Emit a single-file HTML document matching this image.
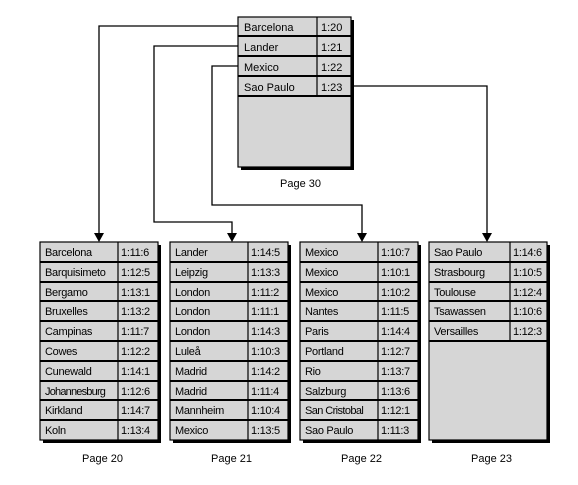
<!DOCTYPE html>
<html><head><style>
body{margin:0;background:#fff}
svg text{font-family:"Liberation Sans",sans-serif;font-size:11px;fill:#000}
</style></head><body>
<svg width="578" height="480" xmlns="http://www.w3.org/2000/svg">
<g stroke="#000" stroke-width="1.3" fill="none">
<polyline points="238,26 99,26 99,236"/>
<polyline points="238,46 154,46 154,222 232,222 232,236"/>
<polyline points="238,66 212,66 212,205 362,205 362,236"/>
<polyline points="351,86 487,86 487,236"/>
</g>
<g fill="#000">
<polygon points="94,233 104,233 99,242"/>
<polygon points="227,233 237,233 232,242"/>
<polygon points="357,233 367,233 362,242"/>
<polygon points="482,233 492,233 487,242"/>
</g>
<!-- top box -->
<rect x="241" y="20" width="113" height="150" fill="#000"/>
<rect x="238" y="17" width="113" height="150" fill="#d6d6d6" stroke="#000" stroke-width="1.2"/>
<g stroke="#000" stroke-width="2">
<line x1="238" y1="36" x2="351" y2="36"/><line x1="238" y1="56" x2="351" y2="56"/>
<line x1="238" y1="76" x2="351" y2="76"/><line x1="238" y1="96" x2="351" y2="96"/>
</g>
<line x1="317" y1="17" x2="317" y2="96" stroke="#000" stroke-width="1.2"/>
<text x="244" y="31">Barcelona</text><text x="321" y="31">1:20</text>
<text x="244" y="51">Lander</text><text x="321" y="51">1:21</text>
<text x="244" y="71">Mexico</text><text x="321" y="71">1:22</text>
<text x="244" y="91">Sao Paulo</text><text x="321" y="91">1:23</text>
<text x="280" y="187" font-size="11">Page 30</text>

<!-- shadows & boxes -->
<g fill="#000">
<rect x="43" y="245" width="118" height="198"/>
<rect x="173" y="245" width="118" height="198"/>
<rect x="303" y="245" width="118" height="198"/>
<rect x="432" y="245" width="118" height="198"/>
</g>
<g fill="#d6d6d6" stroke="#000" stroke-width="1.2">
<rect x="40" y="242" width="118" height="198"/>
<rect x="170" y="242" width="118" height="198"/>
<rect x="300" y="242" width="118" height="198"/>
<rect x="429" y="242" width="118" height="198"/>
</g>
<g stroke="#000" stroke-width="2">
<line x1="40" y1="262" x2="158" y2="262"/><line x1="40" y1="282" x2="158" y2="282"/><line x1="40" y1="301" x2="158" y2="301"/><line x1="40" y1="321" x2="158" y2="321"/><line x1="40" y1="341" x2="158" y2="341"/><line x1="40" y1="361" x2="158" y2="361"/><line x1="40" y1="381" x2="158" y2="381"/><line x1="40" y1="400" x2="158" y2="400"/><line x1="40" y1="420" x2="158" y2="420"/>
<line x1="170" y1="262" x2="288" y2="262"/><line x1="170" y1="282" x2="288" y2="282"/><line x1="170" y1="301" x2="288" y2="301"/><line x1="170" y1="321" x2="288" y2="321"/><line x1="170" y1="341" x2="288" y2="341"/><line x1="170" y1="361" x2="288" y2="361"/><line x1="170" y1="381" x2="288" y2="381"/><line x1="170" y1="400" x2="288" y2="400"/><line x1="170" y1="420" x2="288" y2="420"/>
<line x1="300" y1="262" x2="418" y2="262"/><line x1="300" y1="282" x2="418" y2="282"/><line x1="300" y1="301" x2="418" y2="301"/><line x1="300" y1="321" x2="418" y2="321"/><line x1="300" y1="341" x2="418" y2="341"/><line x1="300" y1="361" x2="418" y2="361"/><line x1="300" y1="381" x2="418" y2="381"/><line x1="300" y1="400" x2="418" y2="400"/><line x1="300" y1="420" x2="418" y2="420"/>
<line x1="429" y1="262" x2="547" y2="262"/><line x1="429" y1="282" x2="547" y2="282"/><line x1="429" y1="301" x2="547" y2="301"/><line x1="429" y1="321" x2="547" y2="321"/><line x1="429" y1="341" x2="547" y2="341"/>
</g>
<g stroke="#000" stroke-width="1.2">
<line x1="118" y1="242" x2="118" y2="440"/>
<line x1="248" y1="242" x2="248" y2="440"/>
<line x1="378" y1="242" x2="378" y2="440"/>
<line x1="510" y1="242" x2="510" y2="341"/>
</g>
<g letter-spacing="-0.3">
<text x="45" y="256">Barcelona</text><text x="121" y="256">1:11:6</text>
<text x="45" y="276">Barquisimeto</text><text x="121" y="276">1:12:5</text>
<text x="45" y="296">Bergamo</text><text x="121" y="296">1:13:1</text>
<text x="45" y="315">Bruxelles</text><text x="121" y="315">1:13:2</text>
<text x="45" y="335">Campinas</text><text x="121" y="335">1:11:7</text>
<text x="45" y="355">Cowes</text><text x="121" y="355">1:12:2</text>
<text x="45" y="375">Cunewald</text><text x="121" y="375">1:14:1</text>
<text x="45" y="395" letter-spacing="-0.8">Johannesburg</text><text x="121" y="395">1:12:6</text>
<text x="45" y="414">Kirkland</text><text x="121" y="414">1:14:7</text>
<text x="45" y="434">Koln</text><text x="121" y="434">1:13:4</text>

<text x="175" y="256">Lander</text><text x="251" y="256">1:14:5</text>
<text x="175" y="276">Leipzig</text><text x="251" y="276">1:13:3</text>
<text x="175" y="296">London</text><text x="251" y="296">1:11:2</text>
<text x="175" y="315">London</text><text x="251" y="315">1:11:1</text>
<text x="175" y="335">London</text><text x="251" y="335">1:14:3</text>
<text x="175" y="355">Luleå</text><text x="251" y="355">1:10:3</text>
<text x="175" y="375">Madrid</text><text x="251" y="375">1:14:2</text>
<text x="175" y="395">Madrid</text><text x="251" y="395">1:11:4</text>
<text x="175" y="414">Mannheim</text><text x="251" y="414">1:10:4</text>
<text x="175" y="434">Mexico</text><text x="251" y="434">1:13:5</text>

<text x="305" y="256">Mexico</text><text x="381" y="256">1:10:7</text>
<text x="305" y="276">Mexico</text><text x="381" y="276">1:10:1</text>
<text x="305" y="296">Mexico</text><text x="381" y="296">1:10:2</text>
<text x="305" y="315">Nantes</text><text x="381" y="315">1:11:5</text>
<text x="305" y="335">Paris</text><text x="381" y="335">1:14:4</text>
<text x="305" y="355">Portland</text><text x="381" y="355">1:12:7</text>
<text x="305" y="375">Rio</text><text x="381" y="375">1:13:7</text>
<text x="305" y="395">Salzburg</text><text x="381" y="395">1:13:6</text>
<text x="305" y="414" letter-spacing="-0.6">San Cristobal</text><text x="381" y="414">1:12:1</text>
<text x="305" y="434">Sao Paulo</text><text x="381" y="434">1:11:3</text>

<text x="434" y="256">Sao Paulo</text><text x="513" y="256">1:14:6</text>
<text x="434" y="276">Strasbourg</text><text x="513" y="276">1:10:5</text>
<text x="434" y="296">Toulouse</text><text x="513" y="296">1:12:4</text>
<text x="434" y="315">Tsawassen</text><text x="513" y="315">1:10:6</text>
<text x="434" y="335">Versailles</text><text x="513" y="335">1:12:3</text>
</g>
<text x="82" y="462">Page 20</text>
<text x="211" y="462">Page 21</text>
<text x="341" y="462">Page 22</text>
<text x="471" y="462">Page 23</text>
</svg>
</body></html>
